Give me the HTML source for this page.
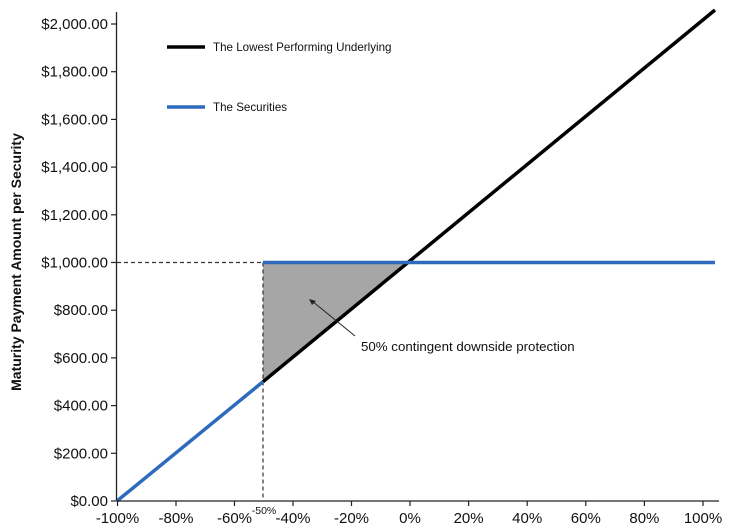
<!DOCTYPE html>
<html><head><style>body{margin:0;background:#fff}svg{display:block}text{font-family:"Liberation Sans",Arial,sans-serif;fill:#111}</style></head><body>
<svg width="733" height="528" viewBox="0 0 733 528">
<polygon points="263,262.5 410,262.5 263,381.7" fill="#a6a6a6"/>
<line x1="117" y1="262.5" x2="263" y2="262.5" stroke="#333" stroke-width="1.2" stroke-dasharray="4,3"/>
<line x1="263" y1="262.5" x2="263" y2="501" stroke="#333" stroke-width="1.2" stroke-dasharray="4,3"/>
<line x1="263" y1="381.7" x2="715" y2="10" stroke="#000" stroke-width="3.5"/>
<line x1="117" y1="501" x2="263" y2="381.7" stroke="#2e6bbd" stroke-width="3.5"/>
<line x1="263" y1="262.5" x2="715" y2="262.5" stroke="#2e6bbd" stroke-width="3.5"/>
<line x1="116.5" y1="12" x2="116.5" y2="501" stroke="#222" stroke-width="1.3"/>
<line x1="116.5" y1="501" x2="719" y2="501" stroke="#222" stroke-width="1.3"/>
<g stroke="#222" stroke-width="1.2">
<line x1="111" y1="501" x2="116" y2="501"/><line x1="111" y1="453.3" x2="116" y2="453.3"/><line x1="111" y1="405.6" x2="116" y2="405.6"/><line x1="111" y1="357.9" x2="116" y2="357.9"/><line x1="111" y1="310.2" x2="116" y2="310.2"/><line x1="111" y1="262.5" x2="116" y2="262.5"/><line x1="111" y1="214.8" x2="116" y2="214.8"/><line x1="111" y1="167.1" x2="116" y2="167.1"/><line x1="111" y1="119.4" x2="116" y2="119.4"/><line x1="111" y1="71.7" x2="116" y2="71.7"/><line x1="111" y1="24" x2="116" y2="24"/>
<line x1="117.5" y1="501" x2="117.5" y2="506"/><line x1="176" y1="501" x2="176" y2="506"/><line x1="234.5" y1="501" x2="234.5" y2="506"/><line x1="293" y1="501" x2="293" y2="506"/><line x1="351.5" y1="501" x2="351.5" y2="506"/><line x1="410" y1="501" x2="410" y2="506"/><line x1="468.6" y1="501" x2="468.6" y2="506"/><line x1="527.2" y1="501" x2="527.2" y2="506"/><line x1="585.8" y1="501" x2="585.8" y2="506"/><line x1="644.4" y1="501" x2="644.4" y2="506"/><line x1="703" y1="501" x2="703" y2="506"/>
</g>
<g font-size="15" text-anchor="end">
<text x="108" y="506">$0.00</text><text x="108" y="458.3">$200.00</text><text x="108" y="410.6">$400.00</text><text x="108" y="362.9">$600.00</text><text x="108" y="315.2">$800.00</text><text x="108" y="267.5">$1,000.00</text><text x="108" y="219.8">$1,200.00</text><text x="108" y="172.1">$1,400.00</text><text x="108" y="124.4">$1,600.00</text><text x="108" y="76.7">$1,800.00</text><text x="108" y="29">$2,000.00</text>
</g>
<g font-size="15" text-anchor="middle">
<text x="117.5" y="523">-100%</text><text x="176" y="523">-80%</text><text x="234.5" y="523">-60%</text><text x="293" y="523">-40%</text><text x="351.5" y="523">-20%</text><text x="410" y="523">0%</text><text x="468.6" y="523">20%</text><text x="527.2" y="523">40%</text><text x="585.8" y="523">60%</text><text x="644.4" y="523">80%</text><text x="703" y="523">100%</text>
</g>
<text x="264" y="514" font-size="10.5" text-anchor="middle">-50%</text>
<text transform="translate(21,262) rotate(-90)" font-size="14" font-weight="bold" text-anchor="middle">Maturity Payment Amount per Security</text>
<line x1="167" y1="47" x2="205" y2="47" stroke="#000" stroke-width="3.5"/>
<text x="213" y="51" font-size="11.6">The Lowest Performing Underlying</text>
<line x1="167" y1="107" x2="205" y2="107" stroke="#2e6bbd" stroke-width="3.5"/>
<text x="213" y="111" font-size="11.6">The Securities</text>
<line x1="355" y1="336" x2="312" y2="301" stroke="#222" stroke-width="1"/>
<polygon points="309,299 316,301 312,305" fill="#222"/>
<text x="361" y="351" font-size="13.3">50% contingent downside protection</text>
</svg>
</body></html>
